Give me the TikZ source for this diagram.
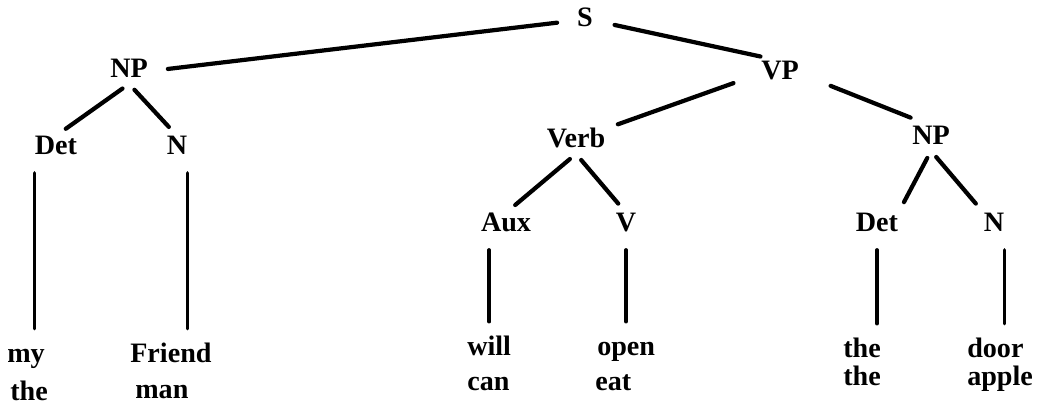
\documentclass[tikz,border=0pt]{standalone}
\usepackage{fontspec}
\setmainfont{Liberation Serif}

\begin{document}
\begin{tikzpicture}[
  x=0.025cm, y=-0.025cm,
  every node/.style={font=\fontsize{20}{24}\selectfont\bfseries,inner sep=0pt,
                     text height=13.5pt,text depth=4pt},
  cat/.style={anchor=base},
  word/.style={anchor=base west},
  branch/.style={line width=3pt,line cap=round},
  leg/.style={branch,shorten <=0.2cm,shorten >=0.3cm},
  stem/.style={branch,line width=2.5pt,shorten <=0.3cm,shorten >=0.35cm},
]
  \useasboundingbox (0,0) rectangle (1043,405);
  % Categories
  \node[cat] (s) at (585,27) {S};
  \node[cat] (np1) at (129,78) {NP};
  \node[cat] (vp) at (780,80) {VP};
  \node[cat] (det1) at (56,155) {Det};
  \node[cat] (n1) at (177,155) {N};
  \node[cat] (verb) at (576,148) {Verb};
  \node[cat] (np2) at (931,145) {NP};
  \node[cat] (aux) at (506,232) {Aux};
  \node[cat] (v) at (626,232) {V};
  \node[cat] (det2) at (877,232) {Det};
  \node[cat] (n2) at (994,232) {N};
  % Words
  \node[word] (my) at (7,362) {my};
  \node[word] (the1) at (10,400) {the};
  \node[word] (friend) at (130,362) {Friend};
  \node[word] (man) at (135,398) {man};
  \node[word] (will) at (467,355) {will};
  \node[word] (can) at (467,390) {can};
  \node[word] (open) at (597,355) {open};
  \node[word] (eat) at (595,390) {eat};
  \node[word] (the2) at (843,357) {the};
  \node[word] (the3) at (843,385) {the};
  \node[word] (door) at (967,357) {door};
  \node[word] (apple) at (967,385) {apple};
  % Upper branches
  \draw[branch,shorten <=0.5cm,shorten >=0.5cm] (s.west) -- (np1.east);
  \draw[branch,shorten <=0.55cm,shorten >=0.5cm] (s.east) -- (vp.north);
  \draw[branch,shorten <=0.73cm,shorten >=0.33cm] (vp.west) -- (verb.north east);
  \draw[branch,shorten <=0.85cm,shorten >=0.55cm] (vp.east) -- (np2.north);
  % Lower branches
  \draw[leg] (np1.south) -- (det1.north);
  \draw[leg] (np1.south) -- (n1.north);
  \draw[leg] (verb.south) -- (aux.north);
  \draw[leg] (verb.south) -- (v.north);
  \draw[leg] (np2.south) -- (det2.north east);
  \draw[leg] (np2.south) -- (n2.north west);
  % Stems down to the words
  \draw[stem] (det1.south west) -- (det1.south west |- my.north);
  \draw[stem] (n1.south east) -- (n1.south east |- friend.north);
  \draw[stem] (will.north |- aux.south) -- (will.north);
  \draw[stem] (v.south) -- (v.south |- open.north);
  \draw[stem] (det2.south) -- (det2.south |- the2.north);
  \draw[stem] (n2.south east) -- (n2.south east |- door.north);
\end{tikzpicture}
\end{document}
